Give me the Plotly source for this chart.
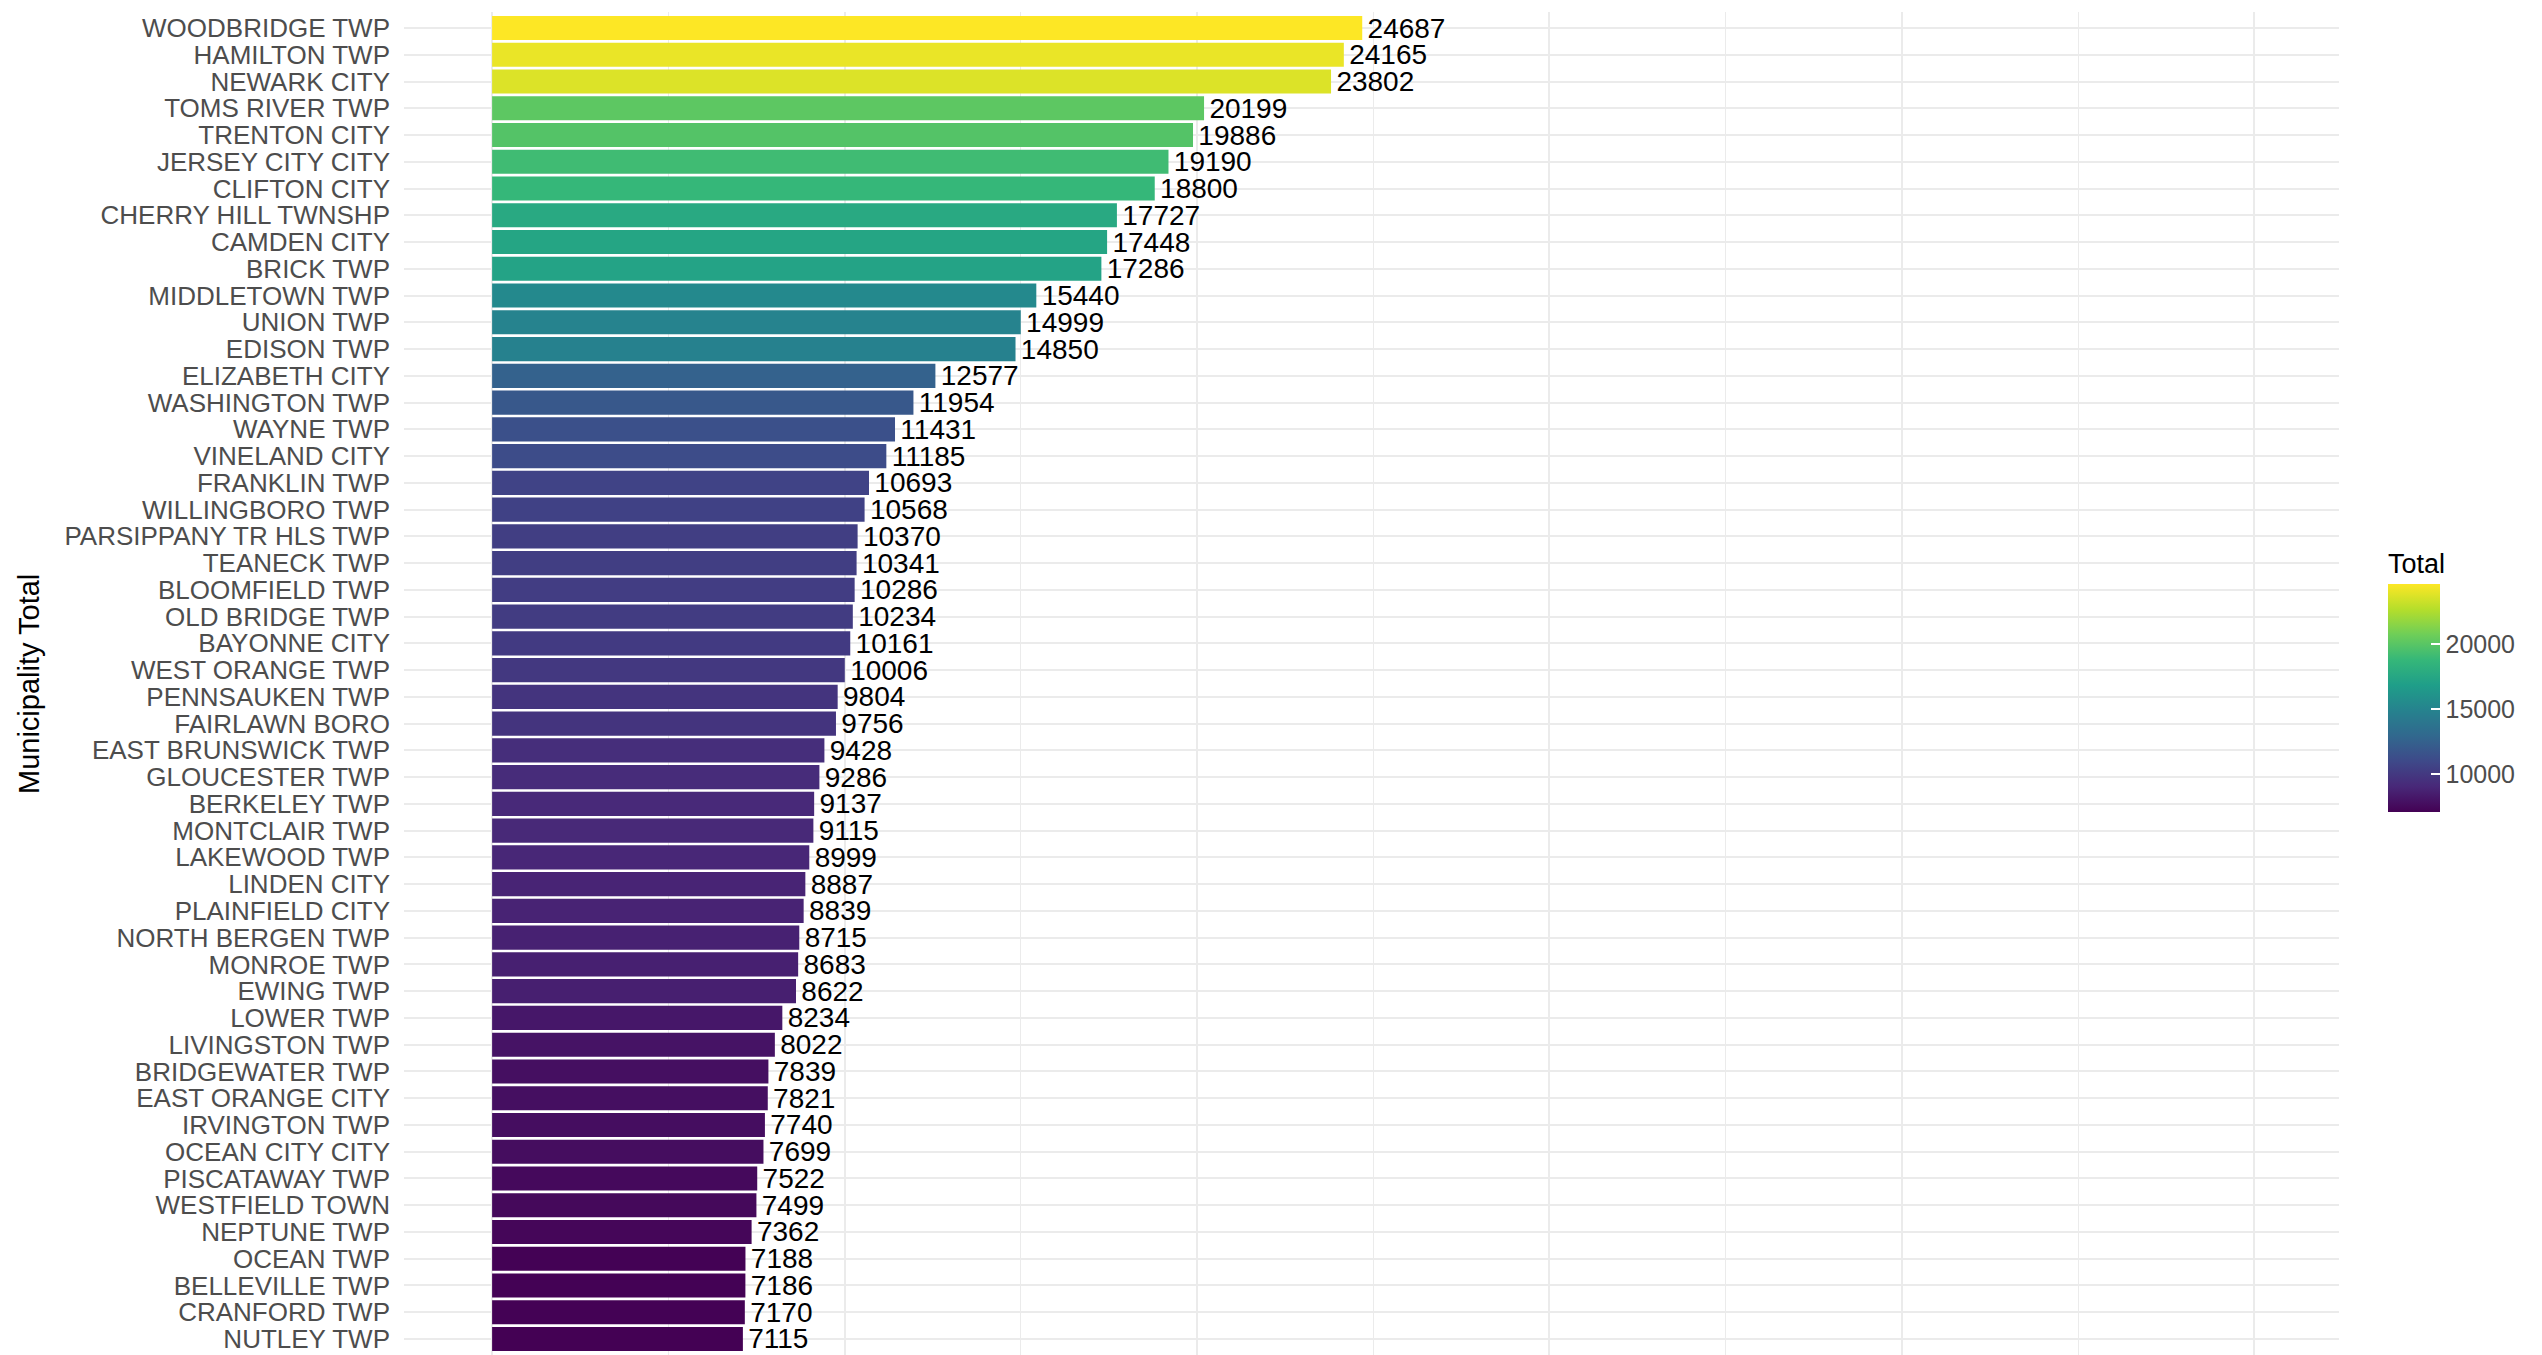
import plotly.graph_objects as go

municipalities = [
    "WOODBRIDGE TWP", "HAMILTON TWP", "NEWARK CITY", "TOMS RIVER TWP", "TRENTON CITY",
    "JERSEY CITY CITY", "CLIFTON CITY", "CHERRY HILL TWNSHP", "CAMDEN CITY", "BRICK TWP",
    "MIDDLETOWN TWP", "UNION TWP", "EDISON TWP", "ELIZABETH CITY", "WASHINGTON TWP",
    "WAYNE TWP", "VINELAND CITY", "FRANKLIN TWP", "WILLINGBORO TWP", "PARSIPPANY TR HLS TWP",
    "TEANECK TWP", "BLOOMFIELD TWP", "OLD BRIDGE TWP", "BAYONNE CITY", "WEST ORANGE TWP",
    "PENNSAUKEN TWP", "FAIRLAWN BORO", "EAST BRUNSWICK TWP", "GLOUCESTER TWP", "BERKELEY TWP",
    "MONTCLAIR TWP", "LAKEWOOD TWP", "LINDEN CITY", "PLAINFIELD CITY", "NORTH BERGEN TWP",
    "MONROE TWP", "EWING TWP", "LOWER TWP", "LIVINGSTON TWP", "BRIDGEWATER TWP",
    "EAST ORANGE CITY", "IRVINGTON TWP", "OCEAN CITY CITY", "PISCATAWAY TWP", "WESTFIELD TOWN",
    "NEPTUNE TWP", "OCEAN TWP", "BELLEVILLE TWP", "CRANFORD TWP", "NUTLEY TWP",
]
totals = [
    24687, 24165, 23802, 20199, 19886,
    19190, 18800, 17727, 17448, 17286,
    15440, 14999, 14850, 12577, 11954,
    11431, 11185, 10693, 10568, 10370,
    10341, 10286, 10234, 10161, 10006,
    9804, 9756, 9428, 9286, 9137,
    9115, 8999, 8887, 8839, 8715,
    8683, 8622, 8234, 8022, 7839,
    7821, 7740, 7699, 7522, 7499,
    7362, 7188, 7186, 7170, 7115,
]
colorbar_ticks = [10000, 15000, 20000]

FONT = "Liberation Sans, Arial, sans-serif"
GRID = "#EBEBEB"

# page body has an 8px default margin; the figure is sized to fill the window from there
OFF = 8
W, H = 2542 - OFF, 1355 - OFF

fig = go.Figure()
fig.add_trace(go.Bar(
    x=totals,
    y=municipalities,
    orientation="h",
    marker=dict(
        color=totals,
        colorscale="Viridis",
        cmin=min(totals),
        cmax=max(totals),
        line=dict(width=0),
        colorbar=dict(
            title=dict(text="Total", side="top", font=dict(size=27, color="black", family=FONT)),
            xref="container", yref="container",
            x=(2388 - OFF) / W, xanchor="left",
            y=1 - (814 - OFF) / H, yanchor="bottom",
            thickness=52,
            lenmode="pixels", len=263,
            outlinewidth=0,
            tickvals=colorbar_ticks,
            tickformat="d",
            tickprefix="\u00a0",
            ticks="inside", ticklen=9, tickwidth=2, tickcolor="white",
            tickfont=dict(size=25, color="#4D4D4D", family=FONT),
            ypad=0, xpad=0,
        ),
    ),
    text=["\u200a" + str(v) for v in totals],
    textposition="outside",
    textfont=dict(size=28, color="black", family=FONT),
    constraintext="none",
    cliponaxis=False,
))

n = len(municipalities)
left, top, right = 404, 12, 2339
fig.update_layout(
    width=W, height=H,
    margin=dict(l=left - OFF, r=2542 - right, t=top - OFF, b=0, autoexpand=False),
    paper_bgcolor="white", plot_bgcolor="white",
    bargap=0.1,
    showlegend=False,
    font=dict(family=FONT),
    xaxis=dict(
        range=[-2500, 52400],
        tick0=0, dtick=10000,
        showticklabels=False, ticks="",
        showgrid=True, gridcolor=GRID, gridwidth=2,
        minor=dict(dtick=5000, tick0=0, showgrid=True, gridcolor=GRID, gridwidth=1),
        zeroline=False, showline=False,
    ),
    yaxis=dict(
        categoryorder="array", categoryarray=municipalities,
        range=[n - 1 + 0.6, -0.6],
        tickmode="linear", tick0=0, dtick=1,
        showgrid=True, gridcolor=GRID, gridwidth=2,
        ticks="", ticklabelstandoff=13,
        tickfont=dict(size=26, color="#4D4D4D", family=FONT),
        zeroline=False, showline=False,
    ),
    annotations=[dict(
        text="Municipality Total",
        xref="paper", yref="paper",
        x=(29 - left) / (right - left), y=1 - (684 - top) / (1355 - top),
        xanchor="center", yanchor="middle",
        textangle=-90, showarrow=False,
        font=dict(size=29, color="black", family=FONT),
    )],
)

fig.write_html("out.html")
